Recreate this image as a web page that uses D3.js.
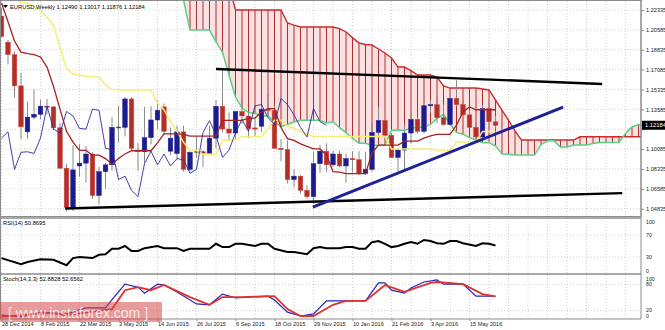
<!DOCTYPE html>
<html>
<head>
<meta charset="utf-8">
<script src="https://cdn.jsdelivr.net/npm/d3@7"></script>
<style>
  body { margin: 0; background: #fff; }
  svg { display: block; }
  text { font-family: "Liberation Sans", Arial, sans-serif; }
</style>
</head>
<body>
<div id="container"></div>
<script>
// ---- data (weekly EURUSD, bar 0 = 28 Dec 2014) ----
const opens  = [1.2180,1.1950,1.1840,1.1565,1.1160,1.1290,1.1315,1.1387,1.1380,1.1196,1.0840,1.0495,1.0860,1.0885,1.0965,1.0600,1.0810,1.0870,1.1200,1.1200,
                1.1450,1.1000,1.0985,1.1110,1.1265,1.1380,1.0990,1.0970,1.1160,1.0830,1.0980,1.0985,1.0970,1.1105,1.1385,1.1185,1.1150,1.1340,1.1300,1.1195,
                1.1210,1.1360,1.1350,1.1015,1.1005,1.0740,1.0770,1.0645,1.0590,1.0880,1.0990,1.0870,1.0965,1.0860,1.0925,1.0915,1.0795,1.0830,1.1155,1.1260,
                1.1130,1.0935,1.1000,1.1150,1.1270,1.1165,1.1390,1.1400,1.1285,1.1225,1.1455,1.1400,1.1310,1.1200,1.1115,1.1365,1.12490];
const highs  = [1.2250,1.1970,1.1870,1.1680,1.1425,1.1534,1.1445,1.1450,1.1390,1.1240,1.0880,1.1043,1.1052,1.1036,1.0980,1.0850,1.0885,1.1290,1.1390,1.1467,
                1.1466,1.1060,1.1380,1.1385,1.1436,1.1410,1.1200,1.1215,1.1215,1.0990,1.1115,1.1000,1.1215,1.1440,1.1714,1.1330,1.1335,1.1460,1.1330,1.1280,
                1.1390,1.1495,1.1390,1.1095,1.1085,1.0830,1.0780,1.0690,1.0980,1.1045,1.1060,1.0995,1.0995,1.0970,1.0990,1.0990,1.0985,1.1240,1.1375,1.1265,
                1.1150,1.1015,1.1218,1.1340,1.1290,1.1400,1.1438,1.1465,1.1400,1.1460,1.1615,1.1440,1.1350,1.1240,1.1395,1.1415,1.13017];
const lows   = [1.1995,1.1754,1.1460,1.1098,1.1098,1.1270,1.1270,1.1315,1.1175,1.0840,1.0460,1.0462,1.0765,1.0713,1.0570,1.0520,1.0660,1.0820,1.1065,1.1120,
                1.0990,1.0818,1.0886,1.1050,1.1185,1.1130,1.0955,1.0915,1.0810,1.0810,1.0930,1.0850,1.0955,1.1015,1.1155,1.1086,1.1100,1.1230,1.1105,1.1120,
                1.1160,1.1330,1.1015,1.0900,1.0705,1.0675,1.0615,1.0570,1.0524,1.0800,1.0805,1.0850,1.0850,1.0710,1.0805,1.0780,1.0780,1.0810,1.1110,1.1090,
                1.0930,1.0810,1.0822,1.1055,1.1145,1.1145,1.1330,1.1235,1.1215,1.1215,1.1385,1.1320,1.1200,1.1095,1.1095,1.1250,1.11876];
const closes = [1.2000,1.1840,1.1565,1.1205,1.1290,1.1315,1.1387,1.1380,1.1196,1.0840,1.0495,1.0825,1.0885,1.0965,1.0600,1.0810,1.0870,1.1200,1.1200,1.1450,
                1.1015,1.0985,1.1110,1.1265,1.1350,1.1165,1.1105,1.1160,1.0830,1.0980,1.0985,1.0970,1.1105,1.1385,1.1185,1.1150,1.1340,1.1300,1.1190,1.1185,
                1.1360,1.1350,1.1015,1.1005,1.0740,1.0770,1.0645,1.0590,1.0880,1.0990,1.0870,1.0965,1.0860,1.0925,1.0915,1.0795,1.0830,1.1155,1.1260,1.1130,
                1.0935,1.1000,1.1150,1.1270,1.1165,1.1390,1.1400,1.1285,1.1225,1.1455,1.1400,1.1310,1.1200,1.1115,1.1365,1.1250,1.12184];

// Ichimoku lines, one value per bar
const tenkan = [1.2295,1.2130,1.1960,1.1863,1.1850,1.1840,1.1820,1.1731,1.1560,1.1360,1.1165,1.1070,1.0997,1.0997,1.0955,1.0955,1.0925,1.0875,1.0925,1.0965,
                1.0994,1.0994,1.0994,1.0994,1.1064,1.1143,1.1143,1.1143,1.1138,1.1123,1.1123,1.1123,1.1123,1.1125,1.1262,1.1262,1.1262,1.1262,1.1282,1.1282,
                1.1335,1.1365,1.1365,1.1198,1.1100,1.1085,1.1055,1.1033,1.1010,1.1010,1.0957,1.0810,1.0805,1.0792,1.0792,1.0792,1.0792,1.0975,1.1043,1.1043,
                1.1043,1.1043,1.1078,1.1078,1.1078,1.1105,1.1124,1.1138,1.1138,1.1138,1.1219,1.1335,1.1380,1.1355,1.1355,1.1355,1.1355];
const kijun  = [1.2400,1.2380,1.2330,1.2300,1.2290,1.2265,1.2230,1.2170,1.2100,1.1900,1.1720,1.1670,1.1661,1.1650,1.1645,1.1643,1.1573,1.1535,1.1529,1.1529,
                1.1529,1.1529,1.1529,1.1529,1.1414,1.1355,1.1250,1.1165,1.1070,1.0997,1.0997,1.0963,1.0963,1.0963,1.1087,1.1087,1.1088,1.1117,1.1117,1.1117,
                1.1117,1.1187,1.1262,1.1262,1.1210,1.1195,1.1165,1.1142,1.1119,1.1119,1.1119,1.1119,1.1119,1.1119,1.1119,1.1119,1.1119,1.1119,1.1119,1.1119,
                1.1010,1.1010,1.1010,1.1010,1.1010,1.1010,1.1010,1.0995,1.0995,1.0995,1.1070,1.1070,1.1070,1.1070,1.1163,1.1163,1.1163];
// cloud, bars 26..102
const cloudStart = 26;
const spanA = [1.2500,1.2420,1.2322,1.2057,1.2057,1.2057,1.2057,1.1952,1.1863,1.1661,1.1467,1.1370,1.1330,1.1323,1.1300,1.1299,1.1249,1.1205,1.1227,1.1247,
               1.1262,1.1262,1.1262,1.1262,1.1239,1.1249,1.1197,1.1154,1.1104,1.1060,1.1060,1.1043,1.1043,1.1044,1.1175,1.1175,1.1175,1.1190,1.1200,1.1200,
               1.1226,1.1276,1.1314,1.1230,1.1155,1.1140,1.1110,1.1088,1.1065,1.1065,1.1038,1.0965,1.0962,1.0956,1.0956,1.0956,1.0956,1.1047,1.1081,1.1081,
               1.1027,1.1027,1.1044,1.1044,1.1044,1.1058,1.1067,1.1067,1.1067,1.1067,1.1145,1.1203,1.1225,1.1213,1.1259,1.1259,1.1259];
const spanB = [1.2450,1.2450,1.2450,1.2450,1.2450,1.2450,1.2450,1.2450,1.2450,1.2450,1.2234,1.2234,1.2234,1.2234,1.2234,1.2234,1.2234,1.2234,1.2119,1.2100,
               1.2084,1.2084,1.2084,1.2084,1.2084,1.2084,1.2070,1.2040,1.1990,1.1943,1.1930,1.1925,1.1890,1.1855,1.1811,1.1731,1.1731,1.1700,1.1661,1.1661,
               1.1661,1.1643,1.1564,1.1546,1.1546,1.1546,1.1546,1.1546,1.1538,1.1529,1.1441,1.1352,1.1264,1.1168,1.1088,1.1088,1.1088,1.1088,1.1088,1.1088,
               1.1088,1.1088,1.1088,1.1117,1.1117,1.1117,1.1117,1.1117,1.1117,1.1117,1.1117,1.1117,1.1117,1.1117,1.1117,1.1117,1.1117];

// drawn trend lines [bar, price]
const topLine    = [[33, 1.1714], [92.4, 1.1582]];
const bottomLine = [[9.8, 1.0485], [95.5, 1.0621]];
const blueLine   = [[47.9, 1.0498], [86.4, 1.1379]];

// oscillators [bar, value]
const rsi = [[0,28],[3,17],[4,21],[6,26],[8,25],[10,15],[11,28],[12,30],[14,28],[15,34],[16,35],[17,45],[18,45],[19,50],[20,41],[21,41],[22,46],[24,50],
             [25,46],[27,46],[28,41],[29,45],[32,45],[33,54],[34,48],[35,48],[36,54],[37,54],[39,50],[40,54],[41,54],[42,45],[44,39],[45,39],[47,35],
             [48,46],[49,48],[50,46],[52,46],[53,48],[54,48],[55,45],[56,45],[57,57],[58,59],[59,54],[60,48],[61,50],[62,54],[63,57],[64,54],[65,61],
             [66,59],[67,55],[68,54],[69,59],[70,59],[71,55],[73,50],[74,55],[75,54],[76,50.87]];
const stochK = [[0,9],[3,5],[6,16],[10,12],[13,26],[16,26],[17,45],[19,81],[21,74],[22,60],[24,81],[25,79],[27,63],[30,35],[32,33],[34,58],[36,49],
                [38,51],[41,53],[42,44],[44,16],[46,7],[48,12],[50,42],[52,42],[56,42],[58,84],[59,84],[60,67],[62,60],[63,72],[65,86],[67,91],
                [68,81],[71,81],[73,53],[74,53],[76,52.88]];
const stochD = [[0,5],[7,14],[10,9],[16,21],[17,23],[19,67],[21,74],[23,67],[25,79],[29,51],[32,33],[34,51],[37,51],[42,53],[44,23],[46,7],[48,7],
                [51,33],[53,42],[56,42],[59,79],[62,63],[66,84],[67,86],[71,81],[74,58],[76,52.66]];

const priceTicks = [1.04835,1.06585,1.08335,1.10085,1.11835,1.13585,1.15335,1.17085,1.18835,1.20585,1.22335];
const dateBars   = [0,6,12,18,24,30,36,42,48,54,60,66,72];
const dateLabels = ["28 Dec 2014","8 Feb 2015","22 Mar 2015","3 May 2015","14 Jun 2015","26 Jul 2015","6 Sep 2015",
                    "18 Oct 2015","29 Nov 2015","10 Jan 2016","21 Feb 2016","3 Apr 2016","15 May 2016"];
const rsiLevels   = [100, 70, 30, 0];
const stochLevels = [100, 80, 20, 0];
const lastPrice = 1.12184;

// ---- layout ----
const width = 665, height = 330;
const plotR = 641;
const main = {top: 1, bottom: 216};
const rsiBox = {top: 218, bottom: 274};
const stoBox = {top: 275, bottom: 319};

const svg = d3.select("#container").append("svg")
  .attr("width", width).attr("height", height);

const x = d3.scaleLinear().domain([0, 76]).range([1.5, 495.5]);
const y = d3.scaleLinear().domain([1.04835, 1.22335]).range([208.7, 10]);
const yR = d3.scaleLinear().domain([0, 100]).range([273.5, 218.5]);
const yS = d3.scaleLinear().domain([0, 100]).range([319, 276]);

const defs = svg.append("defs");
const clip = (id, b) => defs.append("clipPath").attr("id", id)
  .append("rect").attr("x", 0).attr("y", b.top).attr("width", plotR).attr("height", b.bottom - b.top);
clip("cMain", main); clip("cRsi", rsiBox); clip("cSto", stoBox);

// grid
const gridStyle = g => g.attr("stroke", "#c4c4c4").attr("stroke-width", 0.8).attr("stroke-dasharray", "1,2");
const grid = svg.append("g").call(gridStyle);
d3.range(0, 99, 3).forEach(b => {
  [main, rsiBox, stoBox].forEach(p => {
    grid.append("line").attr("x1", x(b)).attr("x2", x(b)).attr("y1", p.top).attr("y2", p.bottom);
  });
});
priceTicks.forEach(p => grid.append("line").attr("x1", 0).attr("x2", plotR).attr("y1", y(p)).attr("y2", y(p)));
[70, 30].forEach(v => grid.append("line").attr("x1", 0).attr("x2", plotR).attr("y1", yR(v)).attr("y2", yR(v)));
[80, 20].forEach(v => grid.append("line").attr("x1", 0).attr("x2", plotR).attr("y1", yS(v)).attr("y2", yS(v)));

// ---- main panel ----
const gm = svg.append("g").attr("clip-path", "url(#cMain)");

// cloud
const cloudIdx = spanA.map((d, i) => i + cloudStart);
gm.append("path")
  .datum(cloudIdx)
  .attr("d", d3.area().x(b => x(b)).y0((b, i) => y(spanA[i])).y1((b, i) => y(spanB[i])))
  .attr("fill", "#fbe1e1");
gm.append("g").selectAll("line").data(cloudIdx).join("line")
  .attr("x1", b => x(b)).attr("x2", b => x(b))
  .attr("y1", (b, i) => y(spanA[i])).attr("y2", (b, i) => y(spanB[i]))
  .attr("stroke", "#a8302e").attr("stroke-width", 1);
const lineIdx = (startBar) => d3.line().x((d, i) => x(i + startBar)).y(d => y(d));
gm.append("path").datum(spanB).attr("d", lineIdx(cloudStart))
  .attr("fill", "none").attr("stroke", "#cc2b2b").attr("stroke-width", 1.4);
gm.append("path").datum(spanA).attr("d", lineIdx(cloudStart))
  .attr("fill", "none").attr("stroke", "#5ccf84").attr("stroke-width", 1.5);

// candles
const cg = gm.append("g");
closes.forEach((c, i) => {
  const o = opens[i], up = c > o, doji = Math.abs(c - o) < 0.0006;
  cg.append("line").attr("x1", x(i)).attr("x2", x(i)).attr("y1", y(highs[i])).attr("y2", y(lows[i]))
    .attr("stroke", "#8a8a8a").attr("stroke-width", 1);
  const top = y(Math.max(o, c)), bot = y(Math.min(o, c));
  cg.append("rect").attr("x", x(i) - 2.3).attr("width", 4.6)
    .attr("y", doji ? top - 0.6 : top).attr("height", doji ? 1.4 : Math.max(1.2, bot - top))
    .attr("fill", doji ? "#404040" : (up ? "#1b1d8c" : "#b3302a"))
    .attr("stroke", doji ? "none" : (up ? "#23239a" : "#d2473b")).attr("stroke-width", 0.5);
});

// ichimoku lines
gm.append("path").datum(kijun).attr("d", lineIdx(0))
  .attr("fill", "none").attr("stroke", "#f6ee74").attr("stroke-width", 1.5);
gm.append("path").datum(tenkan).attr("d", lineIdx(0))
  .attr("fill", "none").attr("stroke", "#a42323").attr("stroke-width", 1.3);
gm.append("path").datum(closes.slice(26)).attr("d", lineIdx(0))
  .attr("fill", "none").attr("stroke", "#2d2d9e").attr("stroke-width", 0.9);

// trend lines
const seg = d3.line().x(d => x(d[0])).y(d => y(d[1]));
gm.append("path").datum(topLine).attr("d", seg).attr("stroke", "#000").attr("stroke-width", 2.4);
gm.append("path").datum(bottomLine).attr("d", seg).attr("stroke", "#000").attr("stroke-width", 2.4);
gm.append("path").datum(blueLine).attr("d", seg).attr("stroke", "#1f1f98").attr("stroke-width", 3);

// header
svg.append("path").attr("d", "M3,5 L8,5 L5.5,8 Z").attr("fill", "#000");
svg.append("text").attr("x", 10).attr("y", 8.5).attr("font-size", 5.8).attr("fill", "#000")
  .text("EURUSD,Weekly  1.12490 1.13017 1.11876 1.12184");

// ---- RSI panel ----
const gr = svg.append("g").attr("clip-path", "url(#cRsi)");
gr.append("path").datum(rsi)
  .attr("d", d3.line().x(d => x(d[0])).y(d => yR(d[1])))
  .attr("fill", "none").attr("stroke", "#000").attr("stroke-width", 2);
svg.append("text").attr("x", 3).attr("y", 225).attr("font-size", 5.8).text("RSI(14) 50.8695");

// ---- Stoch panel ----
const gs = svg.append("g").attr("clip-path", "url(#cSto)");
gs.append("path").datum(stochK)
  .attr("d", d3.line().x(d => x(d[0])).y(d => yS(d[1])))
  .attr("fill", "none").attr("stroke", "#2424b8").attr("stroke-width", 1.2);
gs.append("path").datum(stochD)
  .attr("d", d3.line().x(d => x(d[0])).y(d => yS(d[1])))
  .attr("fill", "none").attr("stroke", "#e03030").attr("stroke-width", 1.8);
svg.append("text").attr("x", 3).attr("y", 281).attr("font-size", 5.8).text("Stoch(14,3,3) 52.8828 52.6562");

// ---- frames ----
const frame = svg.append("g").attr("fill", "none").attr("stroke", "#8c8c8c");
frame.append("rect").attr("x", 0.5).attr("y", 0.5).attr("width", plotR - 0.5).attr("height", main.bottom);
frame.append("line").attr("x1", 0).attr("x2", plotR).attr("y1", rsiBox.top).attr("y2", rsiBox.top).attr("stroke-width", 1.6);
frame.append("line").attr("x1", 0).attr("x2", plotR).attr("y1", rsiBox.bottom).attr("y2", rsiBox.bottom).attr("stroke-width", 1.6);
frame.append("line").attr("x1", 0).attr("x2", plotR).attr("y1", stoBox.bottom).attr("y2", stoBox.bottom);
frame.append("line").attr("x1", plotR).attr("x2", plotR).attr("y1", 0).attr("y2", stoBox.bottom);
frame.append("line").attr("x1", 0.5).attr("x2", 0.5).attr("y1", 0).attr("y2", stoBox.bottom);

// price axis (the tick hidden by the last-price marker gets no label)
const axP = svg.append("g").attr("transform", `translate(${plotR},0)`)
  .call(d3.axisRight(y).tickValues(priceTicks)
    .tickFormat(d => Math.abs(d - lastPrice) < 0.004 ? "" : d3.format(".5f")(d))
    .tickSize(3).tickPadding(2));
axP.select(".domain").remove();
axP.selectAll("line").attr("stroke", "#8c8c8c");
axP.selectAll("text").attr("font-size", 5.6).attr("font-family", "Liberation Sans, Arial, sans-serif").attr("fill", "#222");

// last price marker
svg.append("rect").attr("x", plotR + 1).attr("y", y(lastPrice) - 4.5).attr("width", 24).attr("height", 9).attr("fill", "#000");
svg.append("text").attr("x", plotR + 4).attr("y", y(lastPrice) + 2).attr("font-size", 5.8).attr("fill", "#fff").text(lastPrice.toFixed(5));

// oscillator level labels
const lvl = (levels, sc, box) => levels.forEach(v => {
  const yy = Math.max(box.top + 6, Math.min(box.bottom - 1.5, sc(v) + 1.5));
  svg.append("text").attr("x", plotR + 5).attr("y", yy).attr("font-size", 5.2).attr("fill", "#222").text(v);
});
lvl(rsiLevels, yR, rsiBox);
lvl(stochLevels, yS, stoBox);

// date axis
const axD = svg.append("g").attr("transform", `translate(0,${stoBox.bottom})`)
  .call(d3.axisBottom(x).tickValues(dateBars).tickFormat((d, i) => dateLabels[i]).tickSize(2).tickPadding(1));
axD.select(".domain").remove();
axD.selectAll("line").attr("stroke", "#8c8c8c");
axD.selectAll("text").attr("font-size", 5.6).attr("font-family", "Liberation Sans, Arial, sans-serif")
  .attr("text-anchor", "start").attr("fill", "#222");

// watermark
svg.append("rect").attr("x", 0).attr("y", 302).attr("width", 162).attr("height", 20).attr("fill", "rgba(212,72,72,0.55)");
svg.append("text").attr("x", 8).attr("y", 318).attr("font-size", 14).attr("fill", "rgba(255,255,255,0.78)")
  .text("[ www.instaforex.com ]");
</script>
</body>
</html>
